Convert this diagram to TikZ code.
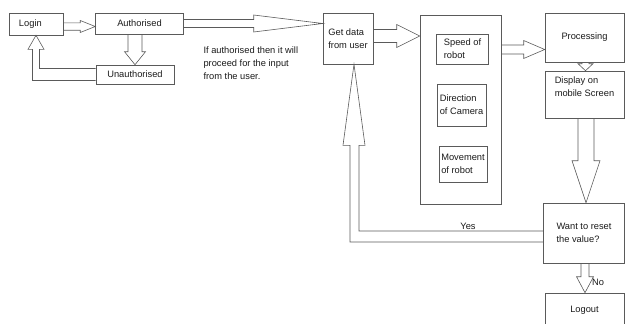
\documentclass[tikz,border=0pt]{standalone}
\usepackage{fontspec}
\setmainfont{Liberation Sans}
\usetikzlibrary{calc}

\definecolor{linegray}{HTML}{5A5A5A}
\definecolor{textgray}{HTML}{1A1A1A}

% hollow block arrow: shaft half width, head half width, head length, from, to
\newcommand{\barrow}[5]{%
  \coordinate (ba) at #4;
  \coordinate (bb) at #5;
  \coordinate (bh) at ($(bb)!#3!(ba)$);
  \draw[hollow] ($(ba)!#1!90:(bb)$) -- ($(bh)!#1!90:(bb)$) -- ($(bh)!#2!90:(bb)$) -- (bb)
    -- ($(bh)!#2!-90:(bb)$) -- ($(bh)!#1!-90:(bb)$) -- ($(ba)!#1!-90:(bb)$);
}

\begin{document}
\begin{tikzpicture}[
    x=1pt, y=-1pt,
    every node/.style={font=\fontsize{9.3}{13}\selectfont, text=textgray},
    box/.style={rectangle, draw=linegray, line width=0.6pt, inner sep=0pt, align=center},
    hollow/.style={draw=linegray, line width=0.6pt, line join=miter}
]
\useasboundingbox (0,0) rectangle (625,324);

\node[box, minimum width=54, minimum height=22, text width=34, align=left] (login) at (36,24) {Login};
\node[box, minimum width=88, minimum height=21] (auth) at (139.5,23.5) {Authorised};
\node[box, minimum width=78, minimum height=19] (unauth) at (135,74.5) {Unauthorised};
\node[anchor=north west, align=left] (note) at (200,43) {If authorised then it will\\proceed for the input\\from the user.};
\node[box, minimum width=50, minimum height=51, align=left] (getdata) at (348,38.5) {Get data\\from user};
\node[box, minimum width=81, minimum height=189] (params) at (460.5,109.5) {};
\node[box, minimum width=52, minimum height=30, align=left] (speed) at (462.5,49) {Speed of\\robot};
\node[box, minimum width=49, minimum height=42, align=left] (direction) at (461.5,105) {Direction\\of Camera};
\node[box, minimum width=48, minimum height=36, align=left] (movement) at (463,164) {Movement\\of robot};
\node[box, minimum width=79, minimum height=49] (proc) at (584.5,37.5) {Processing};
\node[box, minimum width=79, minimum height=47, align=left, text depth=16pt] (disp) at (584.5,94.5) {Display on\\mobile Screen};
\node[box, minimum width=81, minimum height=60, align=left] (reset) at (584,233) {Want to reset\\the value?};
\node[box, minimum width=79, minimum height=34] (logout) at (584.5,310) {Logout};
\node (yes) at (468,226) {Yes};
\node (no) at (598,282) {No};

% Arrows
\barrow{3.7pt}{6pt}{15pt}{($(login.east)+(0,2.5)$)}{($(login.east -| auth.west)+(0,2.5)$)}
\barrow{7pt}{10.5pt}{13pt}{($(auth.south)+(-4.5,0)$)}{(unauth.north)}
\barrow{4pt}{8.5pt}{69pt}{(auth.east)}{(auth.east -| getdata.west)}
\barrow{6.5pt}{11.5pt}{23pt}{($(getdata.east)+(0,-2.5)$)}{($(getdata.east -| params.west)+(0,-2.5)$)}
\barrow{4.5pt}{9pt}{21pt}{($(proc.west -| params.east)+(0,12)$)}{($(proc.west)+(0,12)$)}
\barrow{3.5pt}{7.5pt}{7pt}{($(proc.south)+(1,0)$)}{($(disp.north)+(1,0)$)}
\barrow{8pt}{14pt}{42pt}{($(disp.south)+(1.5,0)$)}{($(disp.south |- reset.north)+(1.5,0)$)}
\barrow{4pt}{8.5pt}{16pt}{($(reset.south)+(1,0)$)}{($(reset.south |- logout.north)+(1,0)$)}

\draw[hollow] ($(unauth.west)+(0,6)$) -| ($(login.south)+(-3.5,14)$) -- ($(login.south)+(-8,14)$)
  -- (login.south) -- ($(login.south)+(8,14)$) -- ($(login.south)+(3.5,14)$) |- ($(unauth.west)+(0,-6)$);
\draw[hollow] ($(reset.west)+(0,9)$) -| ($(getdata.south)+(2,81)$) -- ($(getdata.south)+(-5,81)$)
  -- ($(getdata.south)+(6,0)$) -- ($(getdata.south)+(17,81)$) -- ($(getdata.south)+(11,81)$) |- ($(reset.west)+(0,-2)$);

\end{tikzpicture}
\end{document}
